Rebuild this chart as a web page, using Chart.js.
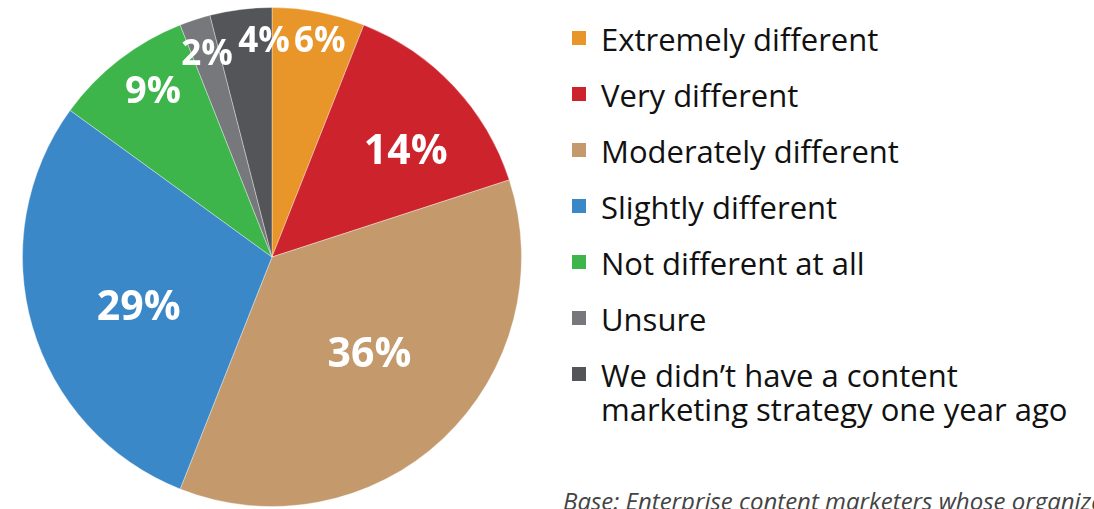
<!DOCTYPE html>
<html lang="en">
<head>
<meta charset="UTF-8">
<title>Pie chart</title>
<script src="https://cdn.jsdelivr.net/npm/chart.js"></script>
<style>
    body { margin:0; width:1094px; height:509px; overflow:hidden; background:#fff; font-family:"Open Sans",sans-serif; }
    #pieBox { position:absolute; left:22px; top:7px; width:500px; height:500px; }
    #legend { position:absolute; left:572px; top:22px; }
    .item { position:relative; height:56px; }
    .sw { position:absolute; left:0; top:9px; width:14px; height:14px; }
    .txt { position:absolute; left:29px; top:0; font-size:31px; line-height:34px; color:#111; white-space:nowrap; }
    #note { position:absolute; left:563px; top:489px; font-size:24px; line-height:24px; font-style:italic; color:#444; white-space:nowrap; }
</style>
</head>
<body>
<div id="pieBox"><canvas id="myChart"></canvas></div>
<div id="legend"></div>
<div id="note">Base: Enterprise content marketers whose organizations</div>
<script>
    // 데이터
    const labels = ["Extremely different", "Very different", "Moderately different", "Slightly different",
                    "Not different at all", "Unsure", "We didn\u2019t have a content\nmarketing strategy one year ago"];
    const values = [6, 14, 36, 29, 9, 2, 4];
    const colors = ["#E8952A", "#CC232C", "#C49A6C", "#3B88C9", "#3DB54A", "#77787C", "#545559"];

    // 범례 (html)
    const legendBox = document.querySelector("#legend");
    labels.forEach((lb, i) => {
        const row = document.createElement("div");
        row.className = "item";
        row.innerHTML = '<div class="sw" style="background:' + colors[i] + '"></div>' +
                        '<div class="txt">' + lb.replace("\n", "<br>") + '</div>';
        legendBox.appendChild(row);
    });

    // 조각 위 퍼센트 글자 위치 보정 (반지름 비율, 각도 오프셋, 글자크기)
    const lblRad  = [0.884, 0.68, 0.556, 0.572, 0.816, 0.852, 0.864];
    const lblTurn = [1.7, 5.2, -1.4, -4.7, 2.0, 0.2, 5.1];
    const lblSize = [35, 41, 41, 41, 38, 35, 35];
    const pctPlugin = {
        id: "pctLabels",
        afterDatasetsDraw(chart) {
            const ctx = chart.ctx;
            const arcs = chart.getDatasetMeta(0).data;
            ctx.save();
            ctx.fillStyle = "#fff";
            ctx.textAlign = "center";
            ctx.textBaseline = "middle";
            arcs.forEach((arc, i) => {
                const p = arc.getProps(["x", "y", "startAngle", "endAngle", "outerRadius"], true);
                const mid = (p.startAngle + p.endAngle) / 2 + lblTurn[i] * Math.PI / 180;
                const r = p.outerRadius * lblRad[i];
                ctx.font = "bold " + lblSize[i] + "px 'Open Sans', sans-serif";
                ctx.fillText(values[i] + "%", p.x + Math.cos(mid) * r, p.y + Math.sin(mid) * r);
            });
            ctx.restore();
        }
    };

    const ctx = document.querySelector("#myChart");
    const pieChart = new Chart(ctx, {
        type: "pie",
        data: {
            labels: labels,
            datasets: [{
                data: values,
                backgroundColor: colors,
                borderColor: "rgba(255,255,255,0.35)",
                borderWidth: 1
            }]
        },
        options: {
            responsive: true,
            maintainAspectRatio: false,
            animation: false,
            layout: { padding: 0 },
            plugins: {
                legend: { display: false },
                tooltip: { enabled: false }
            }
        },
        plugins: [pctPlugin]
    });
</script>
</body>
</html>
